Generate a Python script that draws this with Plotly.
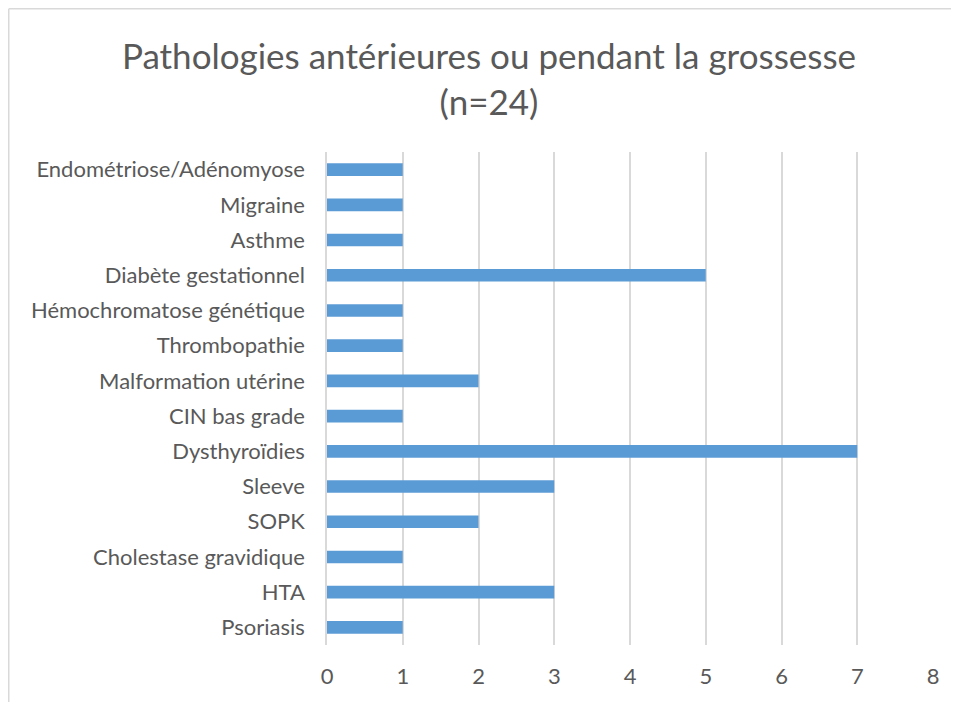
import plotly.graph_objects as go

categories = ["Endométriose/Adénomyose", "Migraine", "Asthme", "Diabète gestationnel",
              "Hémochromatose génétique", "Thrombopathie", "Malformation utérine",
              "CIN bas grade", "Dysthyroïdies", "Sleeve", "SOPK", "Cholestase gravidique",
              "HTA", "Psoriasis"]
values = [1, 1, 1, 5, 1, 1, 2, 1, 7, 3, 2, 1, 3, 1]
x_ticks = [0, 1, 2, 3, 4, 5, 6, 7, 8]

FONT = "Lato"
TXT = "#595959"

fig = go.Figure(go.Bar(
    x=values, y=categories, orientation="h",
    marker=dict(color="#5B9BD5", line=dict(width=0)),
    width=0.36,
))

W, H = 959, 702
L, R, T, B = 319, W - 925, 144, H - 637
pw, ph = W - L - R, H - T - B

fig.update_layout(
    width=W, height=H,
    margin=dict(l=L, r=R, t=T, b=B),
    paper_bgcolor="white", plot_bgcolor="white",
    showlegend=False,
    font=dict(family=FONT, color=TXT, size=22),
    title=dict(
        text="Pathologies antérieures ou pendant la grossesse<br>(n=24)",
        x=481 / W, xanchor="center", y=1 - 61 / H, yanchor="middle",
        font=dict(family=FONT, size=35, color=TXT),
    ),
    xaxis=dict(
        range=[0, 8], tickvals=x_ticks, showgrid=True, gridcolor="#D9D9D9",
        gridwidth=1.5, zeroline=False, showline=False, ticks="",
        ticklabelstandoff=16, tickfont=dict(size=22, color=TXT),
    ),
    yaxis=dict(
        autorange="reversed", showgrid=False, zeroline=False,
        showline=True, linecolor="#D9D9D9", linewidth=1.5, ticks="",
        ticklabelstandoff=16, tickfont=dict(size=22, color=TXT),
    ),
    shapes=[
        dict(type="line", xref="paper", yref="paper",
             x0=(0.75 - L) / pw, x1=(0.75 - L) / pw,
             y0=(H - B - (H + 20)) / ph, y1=(H - B - 0.75) / ph,
             line=dict(color="#D9D9D9", width=1.5)),
        dict(type="line", xref="paper", yref="paper",
             x0=(0.75 - L) / pw, x1=(W + 20 - L) / pw,
             y0=(H - B - 0.75) / ph, y1=(H - B - 0.75) / ph,
             line=dict(color="#D9D9D9", width=1.5)),
    ],
)

fig.write_html("out.html")
